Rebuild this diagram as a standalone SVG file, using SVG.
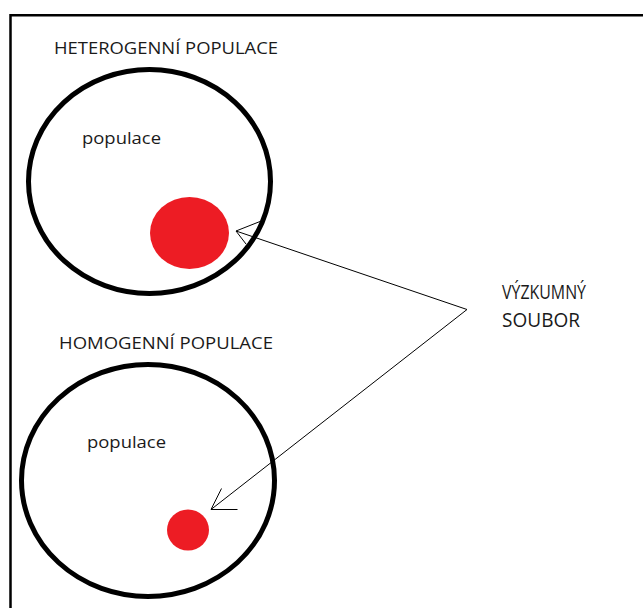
<svg xmlns="http://www.w3.org/2000/svg" width="643" height="608" viewBox="0 0 643 608">
<style>
.lbl{font-family:"Open Sans","Liberation Sans",sans-serif;fill:#1a1a1a}
.ring{fill:none;stroke:#000;stroke-width:5}
.dot{fill:#ed1c24}
.conn{fill:none;stroke:#000;stroke-width:1}
</style>
<rect width="643" height="608" fill="#fff"/>
<path d="M10.5 608 V15.3 H643" fill="none" stroke="#000" stroke-width="2.5"/>
<g id="heterogenni">
<ellipse class="ring" cx="149.5" cy="181.5" rx="121" ry="112"/>
<text class="lbl" x="54" y="54" font-size="16.5" textLength="224" lengthAdjust="spacingAndGlyphs">HETEROGENNÍ POPULACE</text>
<text class="lbl" x="82" y="144" font-size="16" textLength="79" lengthAdjust="spacingAndGlyphs">populace</text>
<ellipse class="dot" cx="189.5" cy="233" rx="39.5" ry="36"/>
</g>
<g id="homogenni">
<ellipse class="ring" cx="148" cy="480.5" rx="126.5" ry="116"/>
<text class="lbl" x="59" y="348.5" font-size="16.5" textLength="214" lengthAdjust="spacingAndGlyphs">HOMOGENNÍ POPULACE</text>
<text class="lbl" x="87" y="448" font-size="16" textLength="79" lengthAdjust="spacingAndGlyphs">populace</text>
<ellipse class="dot" cx="188" cy="530" rx="21" ry="20.5"/>
</g>
<g id="vyzkumny-soubor">
<text class="lbl" x="502" y="298.5" font-size="20.5" textLength="84" lengthAdjust="spacingAndGlyphs">VÝZKUMNÝ</text>
<text class="lbl" x="502" y="327" font-size="20.5" textLength="78" lengthAdjust="spacingAndGlyphs">SOUBOR</text>
</g>
<g id="connectors">
<path class="conn" d="M236 231 L467 309.5 L211 509.5"/>
<path class="conn" d="M260 221.5 L236 231 L246 244"/>
<path class="conn" d="M221.5 488.5 L211 509.5 L237.5 509.5"/>
</g>
</svg>
